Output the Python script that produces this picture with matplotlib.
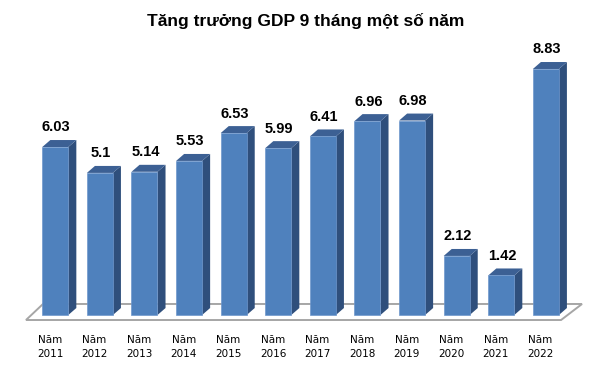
import matplotlib.pyplot as plt
from matplotlib.patches import Polygon

years = ['2011', '2012', '2013', '2014', '2015', '2016',
         '2017', '2018', '2019', '2020', '2021', '2022']
growth = [6.03, 5.1, 5.14, 5.53, 6.53, 5.99, 6.41, 6.96, 6.98, 2.12, 1.42, 8.83]
value_labels = ['6.03', '5.1', '5.14', '5.53', '6.53', '5.99',
                '6.41', '6.96', '6.98', '2.12', '1.42', '8.83']

front_col = '#4F81BD'
side_col = '#2F4F7C'
top_col = '#3C6094'

fig = plt.figure(figsize=(6.11, 3.72), dpi=100)
# axes over the whole figure, scaled so one unit = one bar step / one percent
ax = fig.add_axes([0, 0, 1, 1])
ax.set_xlim(-1.24, 12.46)
ax.set_ylim(-2.046, 11.306)
ax.axis('off')

bw = 0.583   # front face width
ddx = 0.18   # depth offset in x
ddy = 0.25   # depth offset in y

# floor of the 3d plot
floor = Polygon([(-0.657, -0.18), (11.34, -0.18), (11.81, 0.395), (-0.276, 0.395)],
                closed=True, facecolor='white', edgecolor='#A6A6A6', lw=1.4, zorder=1)
ax.add_patch(floor)

x = list(range(len(years)))
ax.bar(x, growth, width=bw, color=front_col, edgecolor='#6F97CC', lw=0.5, zorder=3)

for i, v in enumerate(growth):
    l = i - bw / 2
    r = i + bw / 2
    side = Polygon([(r, 0), (r + ddx, ddy), (r + ddx, v + ddy), (r, v)],
                   closed=True, facecolor=side_col, edgecolor='none', zorder=2)
    top = Polygon([(l, v), (r, v), (r + ddx, v + ddy), (l + ddx, v + ddy)],
                  closed=True, facecolor=top_col, edgecolor='none', zorder=2)
    ax.add_patch(side)
    ax.add_patch(top)
    ax.text(i + 0.02, v + ddy + 0.2, value_labels[i], ha='center', va='bottom',
            fontsize=10.5, fontweight='bold', family='Liberation Sans', zorder=4)
    ax.text(i - 0.12, -0.72, 'Năm\n' + years[i], ha='center', va='top',
            fontsize=7.5, linespacing=1.55, family='DejaVu Sans')

fig.text(0.5, 1 - 26 / 372, 'Tăng trưởng GDP 9 tháng một số năm', ha='center',
         va='baseline', fontsize=12.5, fontweight='bold', family='Liberation Sans')

fig.savefig('out.png', dpi=100)
